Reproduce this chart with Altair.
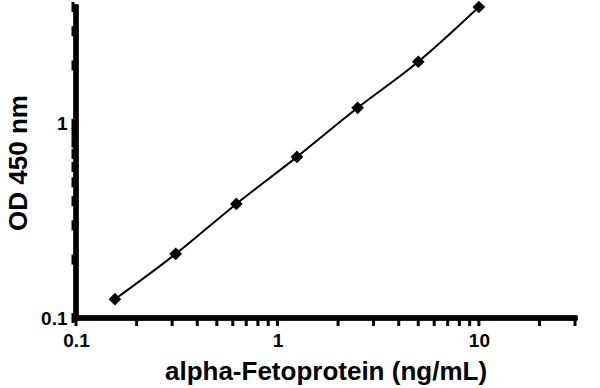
import altair as alt
import pandas as pd

conc = [0.156, 0.3125, 0.625, 1.25, 2.5, 5, 10]
od = [0.125, 0.214, 0.387, 0.676, 1.21, 2.09, 4.0]

x_ticks = [0.1, 0.2, 0.3, 0.4, 0.5, 0.6, 0.7, 0.8, 0.9,
           1, 2, 3, 4, 5, 6, 7, 8, 9, 10, 20, 30]
y_ticks = [0.1, 0.2, 0.3, 0.4, 0.5, 0.6, 0.7, 0.8, 0.9, 1, 2, 3, 4]
x_domain = [0.1, 30]
y_domain = [0.1, 4]

df = pd.DataFrame({"conc": conc, "od": od})
xt = pd.DataFrame({"v": x_ticks})
yt = pd.DataFrame({"v": y_ticks})

label_expr = "(datum.value == 0.1 || datum.value == 1 || datum.value == 10) ? format(datum.value, '~g') : ''"
font = "Liberation Sans"

xs = alt.Scale(type="log", domain=x_domain)
ys = alt.Scale(type="log", domain=y_domain)

x_enc = alt.X("conc:Q", scale=xs,
              axis=alt.Axis(values=x_ticks, title="alpha-Fetoprotein (ng/mL)",
                            labelExpr=label_expr, labelPadding=13, titlePadding=8,
                            domain=False, ticks=False))
y_enc = alt.Y("od:Q", scale=ys,
              axis=alt.Axis(values=y_ticks, title="OD 450 nm",
                            labelExpr=label_expr, labelPadding=9, titlePadding=9,
                            domain=False, ticks=False))

base = alt.Chart(df)
line = base.mark_line(color="black", strokeWidth=2, interpolate="monotone", clip=False).encode(x=x_enc, y=y_enc)
points = base.mark_point(shape="diamond", filled=True, color="black", size=160, opacity=1, clip=False).encode(x=x_enc, y=y_enc)

# axis lines
x_axis_line = alt.Chart(df).mark_rule(color="black", strokeWidth=4.5, strokeCap="square").encode(
    x=alt.datum(x_domain[0], scale=xs), x2=alt.datum(x_domain[1]),
    y=alt.datum(y_domain[0], scale=ys))
y_axis_line = alt.Chart(df).mark_rule(color="black", strokeWidth=4.5, strokeCap="square").encode(
    y=alt.datum(y_domain[0], scale=ys), y2=alt.datum(y_domain[1]),
    x=alt.datum(x_domain[0], scale=xs))

# tick marks
x_tick_marks = alt.Chart(xt).mark_tick(color="black", thickness=3, size=10, yOffset=3, opacity=1).encode(
    x=alt.X("v:Q", scale=xs), y=alt.datum(y_domain[0], scale=ys))
y_tick_marks = alt.Chart(yt).mark_tick(color="black", thickness=3, size=10, xOffset=-3, opacity=1).encode(
    y=alt.Y("v:Q", scale=ys), x=alt.datum(x_domain[0], scale=xs))

chart = alt.layer(line, points, x_tick_marks, y_tick_marks, x_axis_line, y_axis_line).properties(
    width=499, height=311,
    padding={"left": 76, "top": 7, "right": 25, "bottom": 70},
    autosize=alt.AutoSizeParams(type="none"),
    background="white",
).configure_view(stroke=None).configure_axis(
    grid=False, labelFont=font, labelFontSize=19,
    labelFontWeight="bold", labelColor="black", titleFont=font,
    titleFontSize=26, titleFontWeight="bold", titleColor="black",
    labelFlush=False, labelOverlap=False,
)

chart.save("out.html", embed_options={"renderer": "svg", "actions": False})
